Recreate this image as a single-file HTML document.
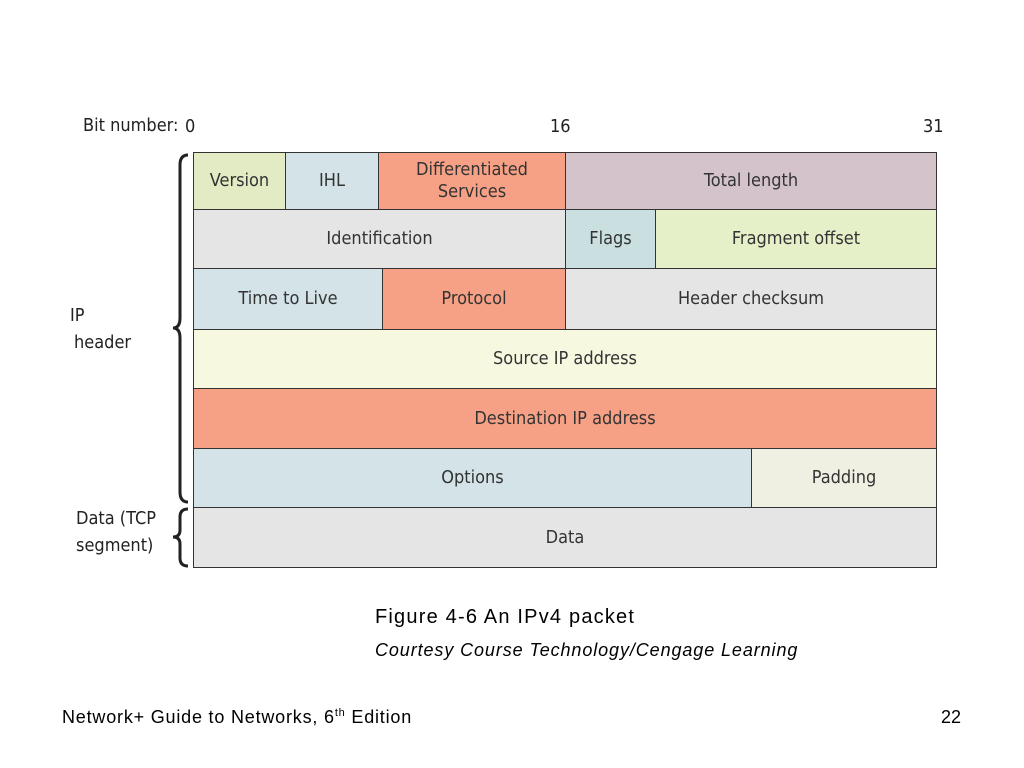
<!DOCTYPE html>
<html><head><meta charset="utf-8"><style>
body{margin:0;width:1024px;height:768px;background:#fff;position:relative;overflow:hidden;font-family:"Liberation Sans",sans-serif;}
.c{position:absolute;box-sizing:border-box;border:1.5px solid #333;display:flex;align-items:center;justify-content:center;text-align:center;font-size:18px;color:#333;line-height:22px;font-family:"DejaVu Sans Condensed","Liberation Sans Narrow","Liberation Sans",sans-serif;}
.t{position:absolute;color:#222;font-size:18px;font-family:"DejaVu Sans Condensed","Liberation Sans",sans-serif;}
</style></head><body>
<div class="t" style="left:83px;top:115px">Bit number:</div>
<div class="t" style="left:185px;top:116px">0</div>
<div class="t" style="left:550px;top:116px">16</div>
<div class="t" style="left:923px;top:116px">31</div>

<div class="c" style="left:193px;top:152px;width:93px;height:58px;background:#e3ebc4">Version</div>
<div class="c" style="left:285px;top:152px;width:94px;height:58px;background:#d3e3e8">IHL</div>
<div class="c" style="left:378px;top:152px;width:188px;height:58px;background:#f6a185">Differentiated<br>Services</div>
<div class="c" style="left:565px;top:152px;width:372px;height:58px;background:#d4c3cb">Total length</div>

<div class="c" style="left:193px;top:209px;width:373px;height:60px;background:#e5e5e5">Identification</div>
<div class="c" style="left:565px;top:209px;width:91px;height:60px;background:#c9dfe0">Flags</div>
<div class="c" style="left:655px;top:209px;width:282px;height:60px;background:#e6f0c8">Fragment offset</div>

<div class="c" style="left:193px;top:268px;width:190px;height:62px;background:#d3e3e8">Time to Live</div>
<div class="c" style="left:382px;top:268px;width:184px;height:62px;background:#f6a185">Protocol</div>
<div class="c" style="left:565px;top:268px;width:372px;height:62px;background:#e5e5e5">Header checksum</div>

<div class="c" style="left:193px;top:329px;width:744px;height:60px;background:#f6f8e0">Source IP address</div>
<div class="c" style="left:193px;top:388px;width:744px;height:61px;background:#f6a185">Destination IP address</div>
<div class="c" style="left:193px;top:448px;width:559px;height:60px;background:#d3e3e8">Options</div>
<div class="c" style="left:751px;top:448px;width:186px;height:60px;background:#eff0e2">Padding</div>
<div class="c" style="left:193px;top:507px;width:744px;height:61px;background:#e5e5e5">Data</div>

<svg style="position:absolute;left:0;top:0" width="1024" height="768">
<path d="M188,155 Q180,155 180,165 L180,318 Q180,328 173,328 Q180,328 180,338 L180,492 Q180,502 188,502" fill="none" stroke="#222" stroke-width="3"/>
<path d="M188,509 Q180,509 180,517 L180,530 Q180,537 173,537 Q180,537 180,544 L180,558 Q180,566 188,566" fill="none" stroke="#222" stroke-width="3"/>
</svg>
<div class="t" style="left:70px;top:305px">IP</div>
<div class="t" style="left:74px;top:332px">header</div>
<div class="t" style="left:76px;top:508px">Data (TCP</div>
<div class="t" style="left:76px;top:535px">segment)</div>

<div style="position:absolute;left:375px;top:606px;font-size:20px;letter-spacing:1.2px;color:#000">Figure 4-6 An IPv4 packet</div>
<div style="position:absolute;left:375px;top:640px;font-size:18px;letter-spacing:0.9px;font-style:italic;color:#000">Courtesy Course Technology/Cengage Learning</div>
<div style="position:absolute;left:62px;top:707px;font-size:18px;letter-spacing:0.8px;color:#000">Network+ Guide to Networks, 6<sup style="font-size:11px">th</sup> Edition</div>
<div style="position:absolute;left:941px;top:707px;font-size:18px;color:#000">22</div>
</body></html>
